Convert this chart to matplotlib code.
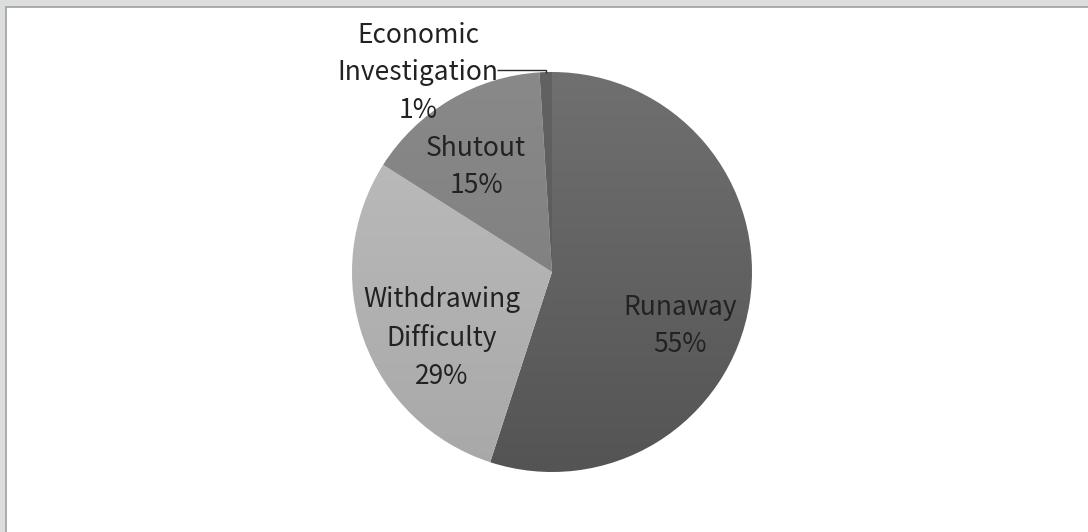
import numpy as np
import matplotlib
matplotlib.use("Agg")
import matplotlib.pyplot as plt
from matplotlib.patches import Rectangle
from matplotlib.colors import LinearSegmentedColormap

# Shares of each category (percent)
categories = ["Runaway", "Withdrawing\nDifficulty", "Shutout", "Economic\nInvestigation"]
shares = [55, 29, 15, 1]
# top / bottom shades for the vertical gradient fill of each wedge
shade_top = ["#707070", "#bebebe", "#898989", "#626262"]
shade_bottom = ["#545454", "#a8a8a8", "#7a7a7a", "#555555"]

W, H = 1088, 532
fig = plt.figure(figsize=(W / 100, H / 100), dpi=100)
fig.patch.set_facecolor("#dcdddf")
ax = fig.add_axes([0, 0, 1, 1])
ax.set_xlim(0, W)
ax.set_ylim(0, H)
ax.axis("off")

# white chart area with a thin grey frame on the left and top
ax.add_patch(Rectangle((5.5, -10), W + 20, H - 6.5 + 10, facecolor="white",
                       edgecolor="#a0a0a0", linewidth=1.2, zorder=0))

cx, cy, R = 552, 260, 200
wedges, _ = ax.pie(shares, startangle=90, counterclock=False, center=(cx, cy),
                   radius=R, frame=False,
                   wedgeprops=dict(linewidth=0, edgecolor="none"))
ax.set_xlim(0, W)
ax.set_ylim(0, H)
ax.set_aspect("equal")

grad = np.linspace(0, 1, 256).reshape(-1, 1)
for w, top, bot in zip(wedges, shade_top, shade_bottom):
    w.set_facecolor("none")
    cmap = LinearSegmentedColormap.from_list("g", [bot, top])
    im = ax.imshow(grad, cmap=cmap, origin="lower", aspect="auto",
                   extent=(cx - R, cx + R, cy - R, cy + R), zorder=1,
                   interpolation="bilinear")
    im.set_clip_path(w)

ax.set_xlim(0, W)
ax.set_ylim(0, H)

font = dict(family=["Noto Sans CJK SC", "DejaVu Sans"], fontsize=19,
            fontweight="light", color="#222222", ha="center", va="center",
            linespacing=1.5, zorder=3)

labels = [f"{c}\n{v}%" for c, v in zip(categories, shares)]
# label centres relative to the pie centre
offsets = [(128, -54), (-110, -66), (-76, 105), (-134, 199)]
for lab, (dx, dy) in zip(labels, offsets):
    ax.text(cx + dx, cy + dy, lab, **font)

# leader line for the smallest slice
w = wedges[3]
mid = np.deg2rad((w.theta1 + w.theta2) / 2)
px, py = cx + R * np.cos(mid), cy + R * np.sin(mid)
ax.plot([497, px, px], [py + 2, py + 2, py - 1], color="#2b2b2b", lw=1, zorder=4,
        solid_capstyle="butt")

fig.savefig("out.png", dpi=100, facecolor=fig.get_facecolor())
